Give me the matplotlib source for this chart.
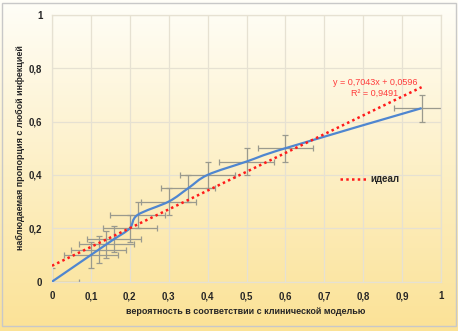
import numpy as np
import matplotlib
matplotlib.use('Agg')
import matplotlib.pyplot as plt
from matplotlib.path import Path
import matplotlib.patches as mpatches

# данные калибровки
prob = [0, 0.1, 0.12, 0.14, 0.16, 0.2, 0.22, 0.3, 0.35, 0.4, 0.5, 0.6, 0.95]
observed = [0, 0.1, 0.12, 0.14, 0.16, 0.2, 0.25, 0.3, 0.35, 0.4, 0.45, 0.5, 0.65]
x_err = 0.07
y_err = 0.05

# линия тренда (из подписи)
slope = 0.7043
intercept = 0.0596
r2 = 0.9491

x_ticks = [0, 0.1, 0.2, 0.3, 0.4, 0.5, 0.6, 0.7, 0.8, 0.9, 1]
x_tick_labels = ['0', '0,1', '0,2', '0,3', '0,4', '0,5', '0,6', '0,7', '0,8', '0,9', '1']
y_ticks = [0, 0.2, 0.4, 0.6, 0.8, 1]
y_tick_labels = ['0', '0,2', '0,4', '0,6', '0,8', '1']

plt.rcParams['font.family'] = ['Liberation Sans', 'DejaVu Sans']
text_col = '#262626'

fig = plt.figure(figsize=(4.58, 3.31), dpi=100)

# фон с градиентом
bg = fig.add_axes([0, 0, 1, 1], zorder=-10)
top = np.array([255, 254, 248]) / 255
bottom = np.array([251, 226, 150]) / 255
t = np.linspace(0, 1, 200)[:, None]
grad = top * (1 - t) + bottom * t
grad = np.repeat(grad[:, None, :], 2, axis=1)
bg.imshow(grad, aspect='auto', extent=[0, 1, 0, 1])
bg.add_patch(mpatches.Rectangle((0.004, 0.015), 0.992, 0.975, fill=False,
                                edgecolor='#c8c8c8', lw=1.0))
bg.set_xlim(0, 1)
bg.set_ylim(0, 1)
bg.axis('off')

ax = fig.add_axes([0.1135, 0.149, 0.8495, 0.8065])
ax.set_facecolor('none')
ax.set_xlim(0, 1)
ax.set_ylim(0, 1)
ax.set_xticks(x_ticks)
ax.set_xticklabels(x_tick_labels)
ax.set_yticks(y_ticks)
ax.set_yticklabels(y_tick_labels)
ax.tick_params(length=0, labelsize=7, colors=text_col, pad=7)
for lab in ax.get_xticklabels() + ax.get_yticklabels():
    lab.set_fontweight('bold')
ax.grid(True, color='#e6e1d2', lw=0.9)
ax.set_axisbelow(True)
for sp in ax.spines.values():
    sp.set_color('#e6e1d2')
    sp.set_linewidth(0.9)

# планки погрешностей
ax.errorbar(prob, observed, xerr=x_err, yerr=y_err, fmt='none',
            ecolor='#9a9a8e', elinewidth=0.9, capsize=2.5, capthick=0.9,
            zorder=2, clip_on=True)

# сглаженная линия (кривые Безье через точки)
pts = np.column_stack([prob, observed])
verts = [pts[0]]
codes = [Path.MOVETO]
n = len(pts)
for i in range(n - 1):
    p0 = pts[max(i - 1, 0)]
    p1 = pts[i]
    p2 = pts[i + 1]
    p3 = pts[min(i + 2, n - 1)]
    c1 = p1 + (p2 - p0) / 6
    c2 = p2 - (p3 - p1) / 6
    verts += [c1, c2, p2]
    codes += [Path.CURVE4] * 3
ax.add_patch(mpatches.PathPatch(Path(verts, codes), fill=False,
                                edgecolor='#4f86d0', lw=1.6, zorder=3))

# линия тренда
xt = np.array([0, max(prob)])
ax.plot(xt, slope * xt + intercept, color='#ff1a1a', lw=1.8,
        linestyle=(0, (1, 1.3)), zorder=4, label='идеал')

ax.text(0.83, 0.745, 'y = 0,7043x + 0,0596', color='#ff3b3b', fontsize=6.5,
        ha='center', va='center')
ax.text(0.83, 0.705, 'R² = 0,9491', color='#ff3b3b', fontsize=6.5,
        ha='center', va='center')

leg = ax.legend(loc='center left', bbox_to_anchor=(0.74, 0.385), frameon=False,
                borderpad=0, borderaxespad=0, handlelength=2.8,
                handletextpad=0.35, prop={'size': 7, 'weight': 'bold'})
for txt in leg.get_texts():
    txt.set_color(text_col)

fig.text(0.537, 0.06, 'вероятность в соответствии с клинической моделью',
         fontsize=6.5, fontweight='bold', color=text_col, ha='center', va='center')
fig.text(0.044, 0.553, 'наблюдаемая пропорция с любой инфекцией', rotation=90,
         fontsize=6.5, fontweight='bold', color=text_col, ha='center', va='center')

fig.savefig('out.png', dpi=100)
